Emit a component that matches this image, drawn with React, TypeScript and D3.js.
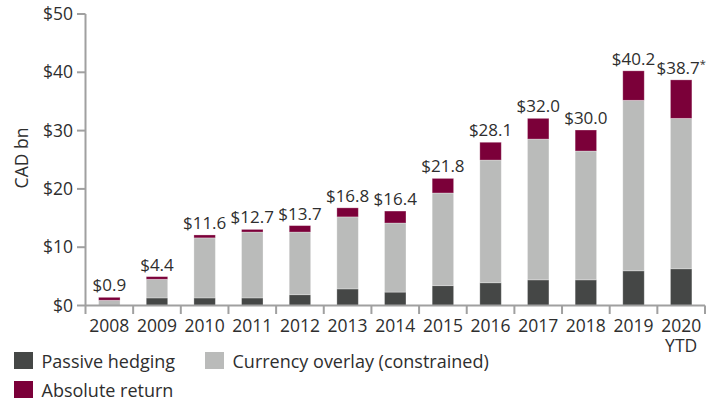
import React from "react";
import * as d3 from "d3";

const categories = ["2008", "2009", "2010", "2011", "2012", "2013", "2014", "2015", "2016", "2017", "2018", "2019", "2020"];
const categorySubLabels = ["", "", "", "", "", "", "", "", "", "", "", "", "YTD"];
const passiveHedging = [0, 1.3, 1.3, 1.3, 1.85, 2.85, 2.3, 3.4, 3.9, 4.4, 4.4, 5.95, 6.3];
const currencyOverlay = [0.9, 3.2, 10.3, 11.3, 10.75, 12.35, 11.85, 15.9, 21.05, 24.15, 22.1, 29.25, 25.8];
const absoluteReturn = [0.5, 0.45, 0.5, 0.45, 1.1, 1.55, 2.05, 2.5, 3.05, 3.55, 3.6, 5.05, 6.6];
const totalLabels = ["$0.9", "$4.4", "$11.6", "$12.7", "$13.7", "$16.8", "$16.4", "$21.8", "$28.1", "$32.0", "$30.0", "$40.2", "$38.7"];
const yTicks = [0, 10, 20, 30, 40, 50];
const seriesNames = ["Passive hedging", "Currency overlay (constrained)", "Absolute return"];
const seriesKeys = ["passive", "overlay", "absolute"];
const colors = ["#454746", "#babbba", "#7b0039"];

const FONT = "'Open Sans', sans-serif";

export default function App() {
  const width = 722;
  const height = 402;
  const x = d3.scaleBand<string>().domain(categories).range([85.5, 705]).paddingInner(0).paddingOuter(0);
  const y = d3.scaleLinear().domain([0, 50]).range([305.5, 14]);
  const rows = categories.map((c, i) => ({
    cat: c,
    passive: passiveHedging[i],
    overlay: currencyOverlay[i],
    absolute: absoluteReturn[i],
  }));
  const stack = d3.stack<any>().keys(seriesKeys);
  const stacked = stack(rows);
  const bw = x.bandwidth() * 0.45;
  const textColor = "#2e2e2e";
  const axisColor = "#a0a0a0";

  return (
    <svg width={width} height={height} style={{ position: "absolute", left: 0, top: 0, fontFamily: FONT }}>
      {/* bars */}
      {stacked.map((s, si) => (
        <g key={si} fill={colors[si]}>
          {s.map((d, i) => {
            const cx = (x(categories[i]) as number) + x.bandwidth() / 2;
            const y0 = y(d[0]);
            const y1 = y(d[1]);
            if (y0 - y1 <= 0) return null;
            return (
              <rect key={i} x={cx - bw / 2} y={y1} width={bw} height={y0 - y1}
                stroke="#ffffff" strokeOpacity={0.35} strokeWidth={0.8} />
            );
          })}
        </g>
      ))}
      {/* value labels */}
      {categories.map((c, i) => {
        const cx = (x(c) as number) + x.bandwidth() / 2;
        const top = y(passiveHedging[i] + currencyOverlay[i] + absoluteReturn[i]);
        return (
          <text key={c} x={cx} y={top - 6} textAnchor="middle" fontSize={17} fill={textColor}>
            {totalLabels[i]}
            {i === categories.length - 1 ? (
              <tspan fontSize={11} dy={-6}>*</tspan>
            ) : null}
          </text>
        );
      })}
      {/* y axis */}
      <line x1={85.5} x2={85.5} y1={14} y2={314} stroke={axisColor} strokeWidth={2} />
      {yTicks.map((t) => (
        <g key={t}>
          <line x1={77} x2={85.5} y1={y(t)} y2={y(t)} stroke={axisColor} strokeWidth={2} />
          <text x={73} y={y(t)} dy="0.35em" textAnchor="end" fontSize={17.5} fill={textColor}>
            {"$" + t}
          </text>
        </g>
      ))}
      <text transform="translate(28,158) rotate(-90)" textAnchor="middle" fontSize={17.5} fill={textColor}>
        CAD bn
      </text>
      {/* x axis */}
      <line x1={85.5} x2={705} y1={305.5} y2={305.5} stroke={axisColor} strokeWidth={2} />
      {categories.map((c, i) => (
        <line key={"t" + i} x1={(x(c) as number) + x.bandwidth()} x2={(x(c) as number) + x.bandwidth()} y1={305.5} y2={314}
          stroke={axisColor} strokeWidth={2} />
      ))}
      {categories.map((c, i) => {
        const cx = (x(c) as number) + x.bandwidth() / 2;
        return (
          <g key={"x" + c}>
            <text x={cx} y={331.5} textAnchor="middle" fontSize={17.5} fill={textColor}>
              {c}
            </text>
            {categorySubLabels[i] ? (
              <text x={cx} y={352} textAnchor="middle" fontSize={17.5} fill={textColor}>
                {categorySubLabels[i]}
              </text>
            ) : null}
          </g>
        );
      })}
      {/* legend */}
      {[
        { i: 0, lx: 14, ly: 352 },
        { i: 1, lx: 205, ly: 352 },
        { i: 2, lx: 14, ly: 381 },
      ].map(({ i, lx, ly }) => (
        <g key={"l" + i}>
          <rect x={lx} y={ly} width={19} height={17} fill={colors[i]} />
          <text x={lx + 27.5} y={ly + 16} fontSize={18} fill={textColor}>
            {seriesNames[i]}
          </text>
        </g>
      ))}
    </svg>
  );
}
